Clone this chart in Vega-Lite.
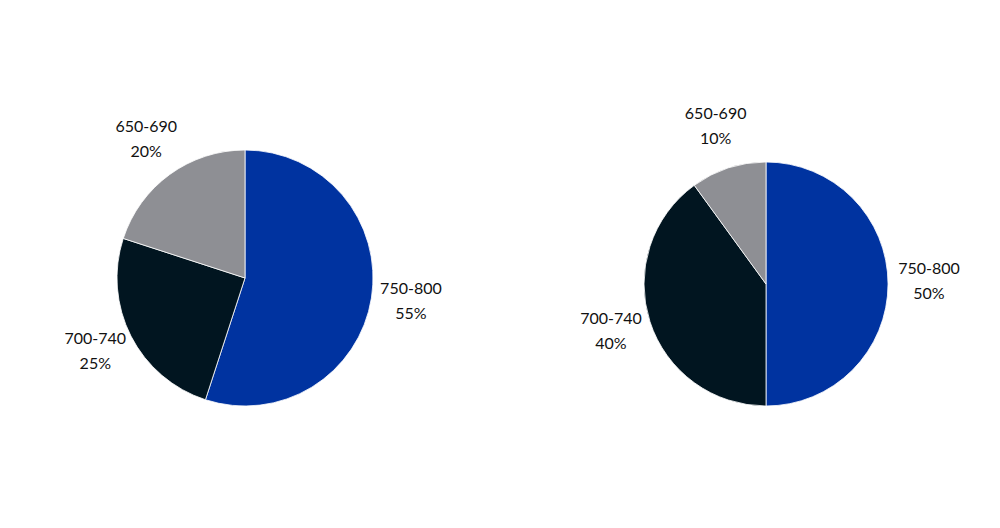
{
  "$schema": "https://vega.github.io/schema/vega-lite/v6.json",
  "padding": {"left": 0, "right": 0, "top": 42, "bottom": 0},
  "background": "white",
  "spacing": 42,
  "config": {"view": {"stroke": null}, "text": {"font": "Lato", "fontSize": 16, "color": "#111111"}},
  "datasets": {
    "pies": [
      {"chart": "A", "range": "750-800", "pct": 0.55, "ord": 1},
      {"chart": "A", "range": "700-740", "pct": 0.25, "ord": 2},
      {"chart": "A", "range": "650-690", "pct": 0.20, "ord": 3},
      {"chart": "B", "range": "750-800", "pct": 0.50, "ord": 1},
      {"chart": "B", "range": "700-740", "pct": 0.40, "ord": 2},
      {"chart": "B", "range": "650-690", "pct": 0.10, "ord": 3}
    ]
  },
  "hconcat": [
    {
      "width": 490,
      "height": 472,
      "data": {"name": "pies"},
      "transform": [{"filter": "datum.chart === 'A'"}],
      "encoding": {
        "theta": {"field": "pct", "type": "quantitative", "stack": true},
        "order": {"field": "ord", "type": "quantitative"},
        "color": {"field": "range", "type": "nominal", "legend": null,
          "scale": {"domain": ["750-800", "700-740", "650-690"], "range": ["#0033A0", "#011520", "#8E8F94"]}}
      },
      "layer": [
        {"mark": {"type": "arc", "outerRadius": 128, "stroke": "#ffffff", "strokeWidth": 0.8}},
        {"mark": {"type": "text", "radius": 168, "dy": -15}, "encoding": {"text": {"field": "range"}, "color": {"value": "#111111"}}},
        {"mark": {"type": "text", "radius": 168, "dy": 10}, "encoding": {"text": {"field": "pct", "type": "quantitative", "format": ".0%"}, "color": {"value": "#111111"}}}
      ]
    },
    {
      "width": 468,
      "height": 484,
      "data": {"name": "pies"},
      "transform": [{"filter": "datum.chart === 'B'"}],
      "encoding": {
        "theta": {"field": "pct", "type": "quantitative", "stack": true},
        "order": {"field": "ord", "type": "quantitative"},
        "color": {"field": "range", "type": "nominal", "legend": null,
          "scale": {"domain": ["750-800", "700-740", "650-690"], "range": ["#0033A0", "#011520", "#8E8F94"]}}
      },
      "layer": [
        {"mark": {"type": "arc", "outerRadius": 122, "stroke": "#ffffff", "strokeWidth": 0.8}},
        {"mark": {"type": "text", "radius": 163, "dy": -15}, "encoding": {"text": {"field": "range"}, "color": {"value": "#111111"}}},
        {"mark": {"type": "text", "radius": 163, "dy": 10}, "encoding": {"text": {"field": "pct", "type": "quantitative", "format": ".0%"}, "color": {"value": "#111111"}}}
      ]
    }
  ]
}
